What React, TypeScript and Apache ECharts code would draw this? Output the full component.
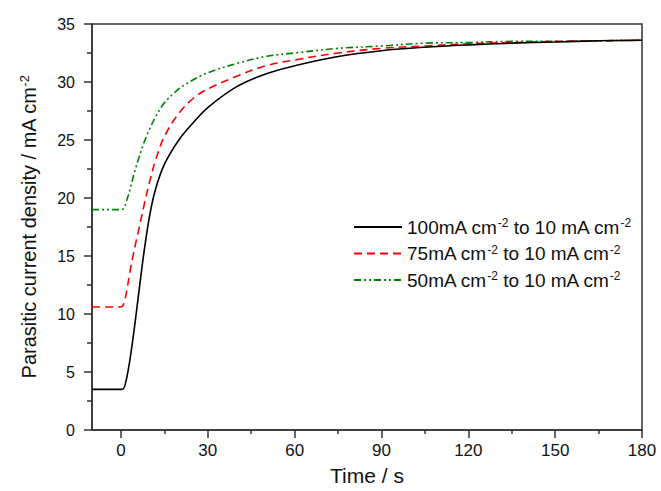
import React, { useEffect, useRef } from 'react';
import * as echarts from 'echarts';

const TIME = [-10, -5, 0, 1, 2, 3, 4, 5, 6, 8, 10, 12, 15, 20, 25, 30, 40, 50, 60, 75, 90, 105, 120, 135, 150, 165, 180];
const S100 = [3.5, 3.5, 3.5, 3.6, 4.5, 5.9, 7.6, 9.5, 11.5, 15.4, 18.6, 20.8, 22.9, 25.0, 26.5, 27.8, 29.6, 30.7, 31.4, 32.2, 32.7, 33.0, 33.2, 33.35, 33.45, 33.55, 33.6];
const S75 = [10.6, 10.6, 10.6, 10.9, 12.0, 13.5, 14.8, 16.0, 17.1, 19.4, 21.5, 23.3, 25.3, 27.3, 28.6, 29.4, 30.5, 31.4, 31.9, 32.5, 32.9, 33.1, 33.3, 33.4, 33.5, 33.55, 33.6];
const S50 = [19.0, 19.0, 19.0, 19.1, 19.8, 20.6, 21.6, 22.5, 23.3, 24.8, 26.0, 27.0, 28.2, 29.4, 30.2, 30.8, 31.6, 32.2, 32.5, 32.9, 33.1, 33.35, 33.4, 33.5, 33.5, 33.55, 33.6];

const SERIES_NAMES = ['100mA cm-2 to 10 mA cm-2', '75mA cm-2 to 10 mA cm-2', '50mA cm-2 to 10 mA cm-2'];
const X_TICKS = [0, 30, 60, 90, 120, 150, 180];
const X_MINOR = [15, 45, 75, 105, 135, 165];

const FONT = '"Liberation Sans", Arial, sans-serif';

export default function App() {
  const ref = useRef<HTMLDivElement>(null);
  useEffect(() => {
    const chart = echarts.init(ref.current!, null, { renderer: 'svg' });
    const pair = (vals: number[]) => TIME.map((t, i) => [t, vals[i]]);
    const axisColor = '#333';
    const series = [
      { data: S100, color: '#000000', type: 'solid' as any },
      { data: S75, color: '#ff0000', type: [8, 5] as any },
      { data: S50, color: '#008000', type: [7, 3, 2, 3, 2, 3] as any },
    ].map((s, i) => ({
      name: SERIES_NAMES[i],
      type: 'line',
      data: pair(s.data),
      showSymbol: false,
      symbol: 'none',
      smooth: 0.35,
      color: s.color,
      lineStyle: { color: s.color, width: 1.6, type: s.type },
      z: 3 - i,
    }));
    chart.setOption({
      animation: false,
      grid: { left: 92, right: 19, top: 24, bottom: 57, show: true, borderColor: axisColor, borderWidth: 1.5, backgroundColor: 'transparent' },
      legend: {
        orient: 'vertical',
        left: 348,
        top: 212,
        itemWidth: 48,
        itemHeight: 10,
        itemGap: 7,
        data: SERIES_NAMES,
        itemStyle: { opacity: 0 },
        formatter: (name: string) => {
          const parts = name.split('-2');
          return `{a|${parts[0]}}{s|-2}{a|${parts[1]}}{s|-2}`;
        },
        textStyle: {
          fontFamily: FONT,
          fontSize: 19,
          color: '#111',
          rich: {
            a: { fontFamily: FONT, fontSize: 19, color: '#111', lineHeight: 20 },
            s: { fontFamily: FONT, fontSize: 12, color: '#111', verticalAlign: 'top', lineHeight: 12 },
          },
        },
      },
      xAxis: [
        {
          type: 'value',
          min: -10,
          max: 180,
          position: 'bottom',
          axisLine: { show: true, onZero: false, lineStyle: { color: axisColor, width: 1.5 } },
          axisTick: { show: true, inside: false, length: 8, customValues: X_TICKS, lineStyle: { color: axisColor, width: 1.5 } },
          axisLabel: { customValues: X_TICKS, fontFamily: FONT, fontSize: 17, color: '#111', margin: 12 },
          splitLine: { show: false },
          name: 'Time / s',
          nameLocation: 'middle',
          nameGap: 35,
          nameTextStyle: { fontFamily: FONT, fontSize: 21, color: '#111' },
        },
        {
          type: 'value',
          min: -10,
          max: 180,
          position: 'bottom',
          axisLine: { show: false, onZero: false },
          axisTick: { show: true, inside: false, length: 4, customValues: X_MINOR, lineStyle: { color: axisColor, width: 1.5 } },
          axisLabel: { show: false },
          splitLine: { show: false },
        },
      ],
      yAxis: {
        type: 'value',
        min: 0,
        max: 35,
        interval: 5,
        axisLine: { show: true, onZero: false, lineStyle: { color: axisColor, width: 1.5 } },
        axisTick: { show: true, inside: false, length: 8, lineStyle: { color: axisColor, width: 1.5 } },
        minorTick: { show: true, splitNumber: 2, length: 5, lineStyle: { color: axisColor, width: 1.5 } },
        axisLabel: { fontFamily: FONT, fontSize: 16, color: '#111', margin: 17 },
        splitLine: { show: false },
        name: '{a|Parasitic current density / mA cm}{s|-2}',
        nameLocation: 'middle',
        nameGap: 52,
        nameRotate: 90,
        nameTextStyle: {
          fontFamily: FONT,
          fontSize: 20,
          color: '#111',
          rich: {
            a: { fontFamily: FONT, fontSize: 20, color: '#111', lineHeight: 22 },
            s: { fontFamily: FONT, fontSize: 13, color: '#111', verticalAlign: 'top', lineHeight: 13 },
          },
        },
      },
      series,
    });
    return () => chart.dispose();
  }, []);
  return <div ref={ref} style={{ width: 661, height: 491, position: 'absolute', left: 0, top: 0, background: '#fff' }} />;
}
